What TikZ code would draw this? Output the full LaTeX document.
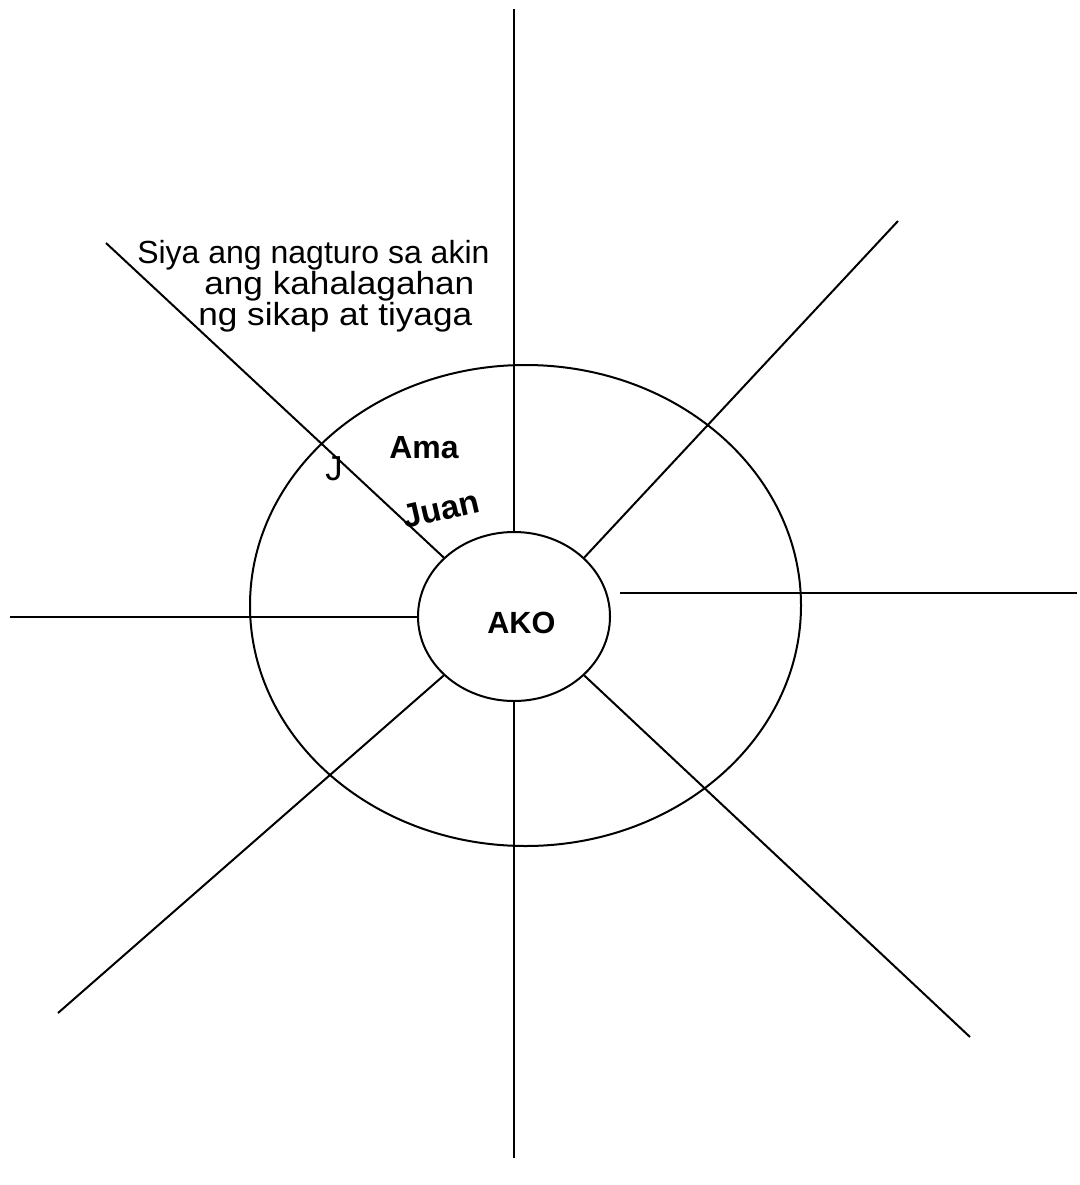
\documentclass[tikz,border=0pt]{standalone}
\usepackage{fontspec}
\setmainfont{Liberation Sans}
\usetikzlibrary{shapes.geometric}
\begin{document}
\begin{tikzpicture}[x=0.75pt,y=-0.75pt,
  ray/.style={line width=1.5pt,black},
  ring/.style={ellipse,draw,line width=1.5pt,inner sep=0pt},
  txt/.style={font=\fontsize{24pt}{28pt}\selectfont,anchor=base west,inner sep=0pt},
  bold/.style={font=\fontsize{24pt}{28pt}\selectfont\bfseries,anchor=base west,inner sep=0pt}]
\useasboundingbox (0,0) rectangle (1079,1185);
% ellipses
\node[ring,minimum width=413.25pt,minimum height=360.75pt] (outer) at (525.5,605.5) {};
\node[ring,minimum width=144pt,minimum height=126.75pt,fill=white] (inner) at (514,616.5) {};
% free ends
\coordinate (top) at (514,9);
\coordinate (bot) at (514,1158);
\coordinate (lft) at (10,616.5);
\coordinate (rgtA) at (620,592.5);
\coordinate (rgtB) at (1077,592.5);
\coordinate (ul) at (106,243);
\coordinate (ur) at (898,221);
\coordinate (ll) at (58,1013);
\coordinate (lr) at (970,1037);
% rays
\draw[ray] (top) -- (inner.north);
\draw[ray] (inner.south) -- (bot);
\draw[ray] (lft) -- (inner.west);
\draw[ray] (rgtA) -- (rgtB);
\draw[ray] (ul) -- (inner.140);
\draw[ray] (ur) -- (inner.40);
\draw[ray] (ll) -- (inner.-140);
\draw[ray] (lr) -- (inner.-40);
% texts
\node[txt] (t1) at (137,263) {Siya ang nagturo sa akin};
\node[txt,xscale=1.1] (t2) at (204,294) {ang kahalagahan};
\node[txt,xscale=1.1] (t3) at (198,325) {ng sikap at tiyaga};
\node[bold] (ama) at (389,458) {Ama};
\node[bold,font=\fontsize{23pt}{27pt}\selectfont\bfseries] (ako) at (487,633) {AKO};
\node[txt,font=\fontsize{26pt}{30pt}\selectfont] (j) at (325,480) {J};
\node[bold,font=\fontsize{25pt}{29pt}\selectfont\bfseries,rotate=13] (juan) at (405,529) {Juan};
\end{tikzpicture}
\end{document}
